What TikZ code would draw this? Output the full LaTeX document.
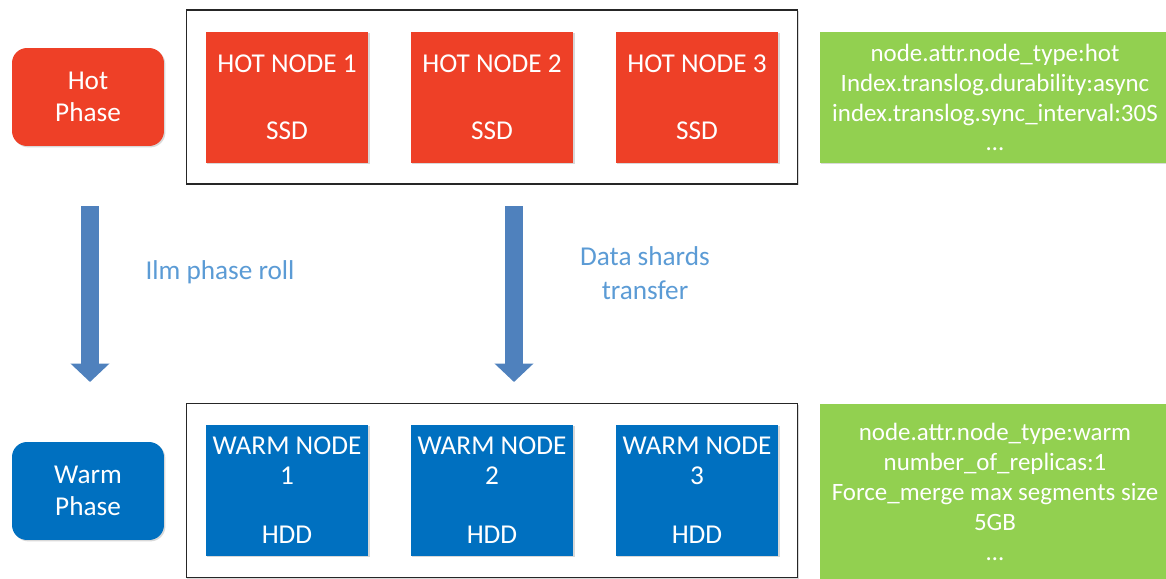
\documentclass[tikz,border=0pt]{standalone}
\usepackage{fontspec}
\setmainfont{Carlito}
\usepackage{tikz}
\usetikzlibrary{arrows.meta, positioning, shadows}

\definecolor{hotred}{HTML}{EE4027}
\definecolor{warmblue}{HTML}{0070C0}
\definecolor{attrgreen}{HTML}{92D050}
\definecolor{flowblue}{HTML}{4F81BD}
\definecolor{labelblue}{HTML}{5B9BD5}

\tikzset{
  softshadow/.style={drop shadow={shadow xshift=0.8pt, shadow yshift=-0.8pt, opacity=0.25, fill=black!60}},
  phasebox/.style={rounded corners=0.3cm, minimum width=3.04cm, minimum height=1.96cm, inner sep=0pt,
    text=white, align=center, font=\fontsize{15.5}{18}\selectfont, softshadow},
  serverbox/.style={minimum width=3.26cm, minimum height=2.62cm, inner sep=0pt,
    text=white, align=center, font=\fontsize{15.5}{17}\selectfont, softshadow},
  attrbox/.style={fill=attrgreen, minimum width=7cm, inner sep=0pt,
    text=white, align=center, font=\fontsize{14.2}{17}\selectfont, softshadow},
  groupbox/.style={draw=black!85, line width=0.6pt, minimum width=12.24cm, minimum height=3.48cm, inner sep=0pt, softshadow, fill=white},
  flowarrow/.style={line width=0.36cm, draw=flowblue, -{Triangle[width=0.76cm, length=0.37cm]}},
  flowlabel/.style={text=labelblue, align=center, font=\fontsize{15.5}{19}\selectfont}
}

\begin{document}
\begin{tikzpicture}[x=0.02cm, y=-0.02cm]
        % Page frame
        \useasboundingbox (0,0) rectangle (1166,578);
        
        % Phase labels on the left
        \node[phasebox, fill=hotred] (hotphase) at (88,97) {Hot\\Phase};
        \node[phasebox, fill=warmblue] (warmphase) at (88,491) {Warm\\Phase};
        
        % Node groups (outer frames)
        \node[groupbox] (hotgroup) at (492,97) {};
        \node[groupbox] (warmgroup) at (492,490.5) {};
        
        % Hot nodes
        \node[serverbox, fill=hotred] (hot1) at (287,97.5) {HOT NODE 1\\[21pt]SSD};
        \node[serverbox, fill=hotred] (hot2) at (492,97.5) {HOT NODE 2\\[21pt]SSD};
        \node[serverbox, fill=hotred] (hot3) at (697,97.5) {HOT NODE 3\\[21pt]SSD};
        
        % Warm nodes
        \node[serverbox, fill=warmblue] (warm1) at (287,490.5) {WARM NODE\\1\\[16.5pt]HDD};
        \node[serverbox, fill=warmblue] (warm2) at (492,490.5) {WARM NODE\\2\\[16.5pt]HDD};
        \node[serverbox, fill=warmblue] (warm3) at (697,490.5) {WARM NODE\\3\\[16.5pt]HDD};
        
        % Settings boxes on the right
        \node[attrbox, minimum height=2.62cm] (hotattr) at (995,97.5)
          {node.attr.node\_type:hot\\Index.translog.durability:async\\index.translog.sync\_interval:30S\\\dots};
        \node[attrbox, minimum height=3.52cm] (warmattr) at (995,492)
          {node.attr.node\_type:warm\\number\_of\_replicas:1\\Force\_merge max segments size\\5GB\\\dots};
        
        % Flow arrows between the phases
        \coordinate (rollstart) at (90,206);
        \coordinate (rollend) at (90,382);
        \coordinate (shardstart) at (514,206);
        \coordinate (shardend) at (514,382);
        \draw[flowarrow] (rollstart) -- (rollend);
        \draw[flowarrow] (shardstart) -- (shardend);
        
        % Arrow labels
        \node[flowlabel] (rolllabel) at (220,272) {Ilm phase roll};
        \node[flowlabel] (shardlabel) at (645,273) {Data shards\\transfer};
    \end{tikzpicture}
\end{document}
